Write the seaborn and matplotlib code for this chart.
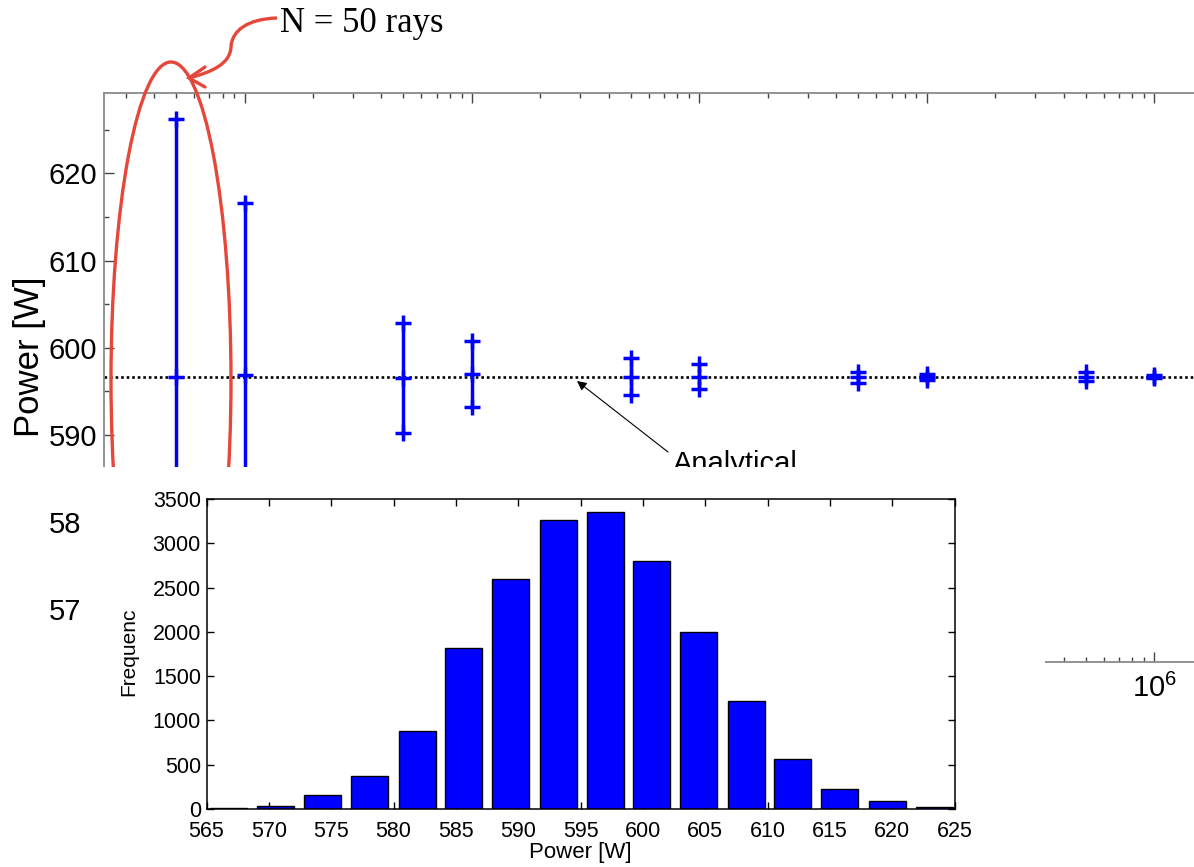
import numpy as np
import pandas as pd
import matplotlib
matplotlib.use("Agg")
import matplotlib.pyplot as plt
import seaborn as sns
from matplotlib.patches import Ellipse, Rectangle, PathPatch
from matplotlib.path import Path
from matplotlib.ticker import LogLocator, MultipleLocator, LogFormatterSciNotation, NullFormatter

# ---------------- data ----------------
rays = [50, 100, 500, 1000, 5000, 10000, 50000, 100000, 500000, 1000000]
power_mean = [596.7, 596.9, 596.5, 597.0, 596.7, 596.7, 596.6, 596.6, 596.7, 596.7]
power_err = [29.5, 19.7, 6.3, 3.8, 2.1, 1.45, 0.6, 0.35, 0.55, 0.15]
analytical_power = 596.7

bin_centers = [566.8, 570.5, 574.3, 578.1, 581.9, 585.6, 589.4, 593.2,
               597.0, 600.7, 604.5, 608.3, 612.0, 615.8, 619.6, 623.4]
bin_counts = [15, 38, 154, 376, 884, 1817, 2596, 3262,
              3352, 2799, 1998, 1223, 568, 222, 87, 23]
hist_xticks = [565, 570, 575, 580, 585, 590, 595, 600, 605, 610, 615, 620, 625]
hist_yticks = [0, 500, 1000, 1500, 2000, 2500, 3000, 3500]

# ---------------- style ----------------
sns.set_theme(style="white")
plt.rcParams['font.family'] = ['Liberation Sans', 'DejaVu Sans']
plt.rcParams['mathtext.fontset'] = 'custom'
plt.rcParams['mathtext.rm'] = 'Liberation Sans'
plt.rcParams['mathtext.it'] = 'Liberation Sans:italic'
plt.rcParams['mathtext.bf'] = 'Liberation Sans:bold'

W, H = 1194, 867
fig = plt.figure(figsize=(W / 100, H / 100), dpi=100)
fig.patch.set_facecolor('white')


def frac(x0, y0, x1, y1):
    return [x0 / W, 1 - y1 / H, (x1 - x0) / W, (y1 - y0) / H]


BLUE = '#0000FF'
RED = '#E5473B'

# ---------------- main convergence plot ----------------
ax = fig.add_axes(frac(104, 93.3, 1222.4, 661.5))
ax.set_zorder(1)
ax.set_facecolor('white')

df = pd.DataFrame({'rays': rays, 'mean': power_mean, 'err': power_err})
ax.vlines(df['rays'], df['mean'] - df['err'], df['mean'] + df['err'],
          color=BLUE, lw=2.5, zorder=3)
pts = pd.concat([
    pd.DataFrame({'rays': df['rays'], 'p': df['mean']}),
    pd.DataFrame({'rays': df['rays'], 'p': df['mean'] + df['err']}),
    pd.DataFrame({'rays': df['rays'], 'p': df['mean'] - df['err']}),
], ignore_index=True)
sns.scatterplot(data=pts, x='rays', y='p', marker='+', s=120, color=BLUE,
                linewidth=2.5, ax=ax, zorder=4, legend=False)
ax.axhline(analytical_power, color='black', ls=(0, (1, 1.1)), lw=1.9, zorder=2)

ax.set_xscale('log')
ax.set_xlim(10 ** 1.382, 10 ** 6.3)
ax.set_ylim(564.0, 629.2)
ax.xaxis.set_major_locator(LogLocator(base=10, numticks=20))
ax.xaxis.set_minor_locator(LogLocator(base=10, subs=np.arange(2, 10), numticks=20))
ax.xaxis.set_major_formatter(LogFormatterSciNotation())
ax.xaxis.set_minor_formatter(NullFormatter())
ax.yaxis.set_major_locator(MultipleLocator(10))
ax.yaxis.set_minor_locator(MultipleLocator(5))
ax.tick_params(which='both', direction='in', top=True, bottom=True,
               left=True, right=False, color='#444444')
ax.tick_params(which='major', length=7.5, width=1, labelsize=21,
               labelcolor='black', pad=5)
ax.tick_params(axis='x', which='major', pad=9)
ax.tick_params(which='minor', length=3.8, width=1)
for side in ['left', 'top', 'bottom']:
    ax.spines[side].set_color('#8a8a8a')
    ax.spines[side].set_linewidth(1.3)
ax.spines['right'].set_visible(False)
ax.set_xlabel('')
ax.set_ylabel('Power [W]', fontsize=25, color='black')
ax.yaxis.set_label_coords(-0.052, 0.536)

# ---------------- overlay (annotations + white mask) ----------------
ov = fig.add_axes([0, 0, 1, 1])
ov.set_zorder(2)
ov.set_xlim(0, W)
ov.set_ylim(H, 0)
ov.axis('off')

ov.add_patch(Ellipse((171, 380), 120, 636, fill=False, ec=RED, lw=2.4, zorder=2))
verts = [(277, 18), (248, 19), (232, 30), (231, 47),
         (230, 64), (212, 72), (189, 78)]
codes = [Path.MOVETO, Path.CURVE4, Path.CURVE4, Path.CURVE4,
         Path.CURVE4, Path.CURVE4, Path.CURVE4]
ov.add_patch(PathPatch(Path(verts, codes), fill=False, ec=RED, lw=2.4, zorder=2))
ov.plot([205, 189, 205], [67, 78, 87], color=RED, lw=2.4, zorder=2,
        solid_capstyle='round', solid_joinstyle='miter')
ov.text(280, 23, 'N = 50 rays', family=['Liberation Serif', 'DejaVu Serif'],
        fontsize=25, ha='left', va='center', color='black', zorder=2)

ov.annotate('', xy=(577, 381), xytext=(668, 452),
            arrowprops=dict(arrowstyle='-|>', color='black', lw=0.8,
                            mutation_scale=14, shrinkA=0, shrinkB=0), zorder=2)
ov.text(673, 450, 'Analytical', fontsize=21, ha='left', va='top',
        color='black', zorder=2)

ov.add_patch(Rectangle((81, 467), 964, 400, fc='white', ec='none', zorder=10))

# ---------------- inset histogram ----------------
hax = fig.add_axes(frac(206.5, 499, 954.5, 809))
hax.set_zorder(3)
hax.set_facecolor('white')
sns.barplot(x=bin_centers, y=bin_counts, native_scale=True, orient='x',
            color=BLUE, saturation=1, edgecolor='black', linewidth=1,
            errorbar=None, ax=hax)
hax.set_xlim(565, 625)
hax.set_ylim(0, 3500)
hax.set_xticks(hist_xticks)
hax.set_xticklabels([str(v) for v in hist_xticks])
hax.set_yticks(hist_yticks)
hax.set_yticklabels([str(v) for v in hist_yticks])
hax.tick_params(which='both', direction='in', top=True, bottom=True,
                left=True, right=True, length=5, width=1, color='black',
                labelsize=15.5, labelcolor='black', pad=4)
hax.tick_params(axis='x', pad=8.5)
for side in hax.spines:
    hax.spines[side].set_color('black')
    hax.spines[side].set_linewidth(1.1)
hax.set_xlabel('Power [W]', fontsize=16, labelpad=0, color='black')
hax.set_ylabel('Frequenc', fontsize=15, color='black')
hax.yaxis.set_label_coords(-0.0916, 0.506)

fig.savefig('out.png', dpi=100)
